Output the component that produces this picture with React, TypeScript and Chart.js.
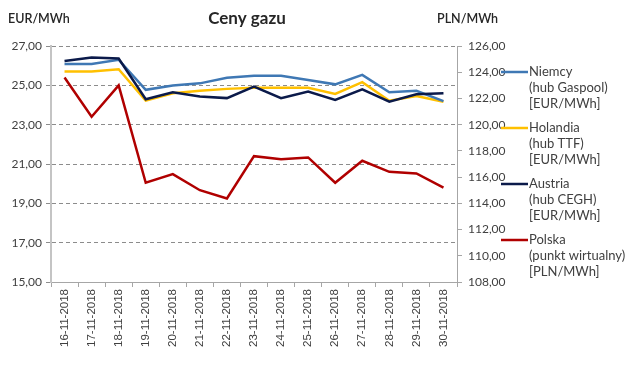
import React, { useEffect, useRef } from 'react';
import { Chart, registerables } from 'chart.js';

Chart.register(...registerables);

const dates = ['16-11-2018', '17-11-2018', '18-11-2018', '19-11-2018', '20-11-2018', '21-11-2018', '22-11-2018', '23-11-2018', '24-11-2018', '25-11-2018', '26-11-2018', '27-11-2018', '28-11-2018', '29-11-2018', '30-11-2018'];
const niemcy = [26.09, 26.09, 26.30, 24.77, 24.99, 25.10, 25.39, 25.49, 25.49, 25.27, 25.05, 25.53, 24.65, 24.72, 24.20];
const holandia = [25.70, 25.70, 25.82, 24.22, 24.60, 24.73, 24.82, 24.88, 24.88, 24.88, 24.56, 25.16, 24.22, 24.46, 24.17];
const austria = [26.24, 26.41, 26.36, 24.29, 24.65, 24.43, 24.35, 24.93, 24.35, 24.68, 24.26, 24.80, 24.17, 24.55, 24.60];
const polska = [123.6, 120.6, 123.0, 115.57, 116.23, 115.0, 114.37, 117.6, 117.37, 117.5, 115.57, 117.25, 116.4, 116.28, 115.2];

const leftTicks = [15, 27, 2];
const rightTicks = [108, 126, 2];

const seriesNames = [
  ['Niemcy', '(hub Gaspool)', '[EUR/MWh]'],
  ['Holandia', '(hub TTF)', '[EUR/MWh]'],
  ['Austria', '(hub CEGH)', '[EUR/MWh]'],
  ['Polska', '(punkt wirtualny)', '[PLN/MWh]'],
];
const colors = ['#3f78b4', '#ffc000', '#0b1a4a', '#b00000'];

const fmt = (v: number) => v.toFixed(2).replace('.', ',');

const textPlugin = {
  id: 'customText',
  afterDraw(chart: any) {
    const ctx = chart.ctx;
    ctx.save();
    ctx.textBaseline = 'middle';
    ctx.fillStyle = '#262626';
    ctx.font = 'bold 17px Lato';
    ctx.textAlign = 'center';
    ctx.fillText('Ceny gazu', 247, 19);
    ctx.font = '600 12.5px Lato';
    ctx.textAlign = 'left';
    ctx.fillText('EUR/MWh', 8, 19);
    ctx.fillText('PLN/MWh', 437, 19);
    // legend
    ctx.font = '13px Lato';
    ctx.fillStyle = '#404040';
    seriesNames.forEach((lines, i) => {
      const y0 = 72 + i * 56;
      ctx.strokeStyle = colors[i];
      ctx.lineWidth = 2.5;
      ctx.beginPath();
      ctx.moveTo(501, y0);
      ctx.lineTo(528, y0);
      ctx.stroke();
      lines.forEach((t, j) => {
        ctx.fillText(t, 529, y0 + j * 16);
      });
    });
    ctx.restore();
  },
};

export default function App() {
  const ref = useRef<HTMLCanvasElement>(null);
  useEffect(() => {
    document.body.style.margin = '0';
    const names = seriesNames.map((s) => s.join(' '));
    const chart = new Chart(ref.current!, {
      type: 'line',
      data: {
        labels: dates,
        datasets: [
          { label: names[3], data: polska, borderColor: colors[3], yAxisID: 'y1' },
          { label: names[2], data: austria, borderColor: colors[2], yAxisID: 'y' },
          { label: names[0], data: niemcy, borderColor: colors[0], yAxisID: 'y' },
          { label: names[1], data: holandia, borderColor: colors[1], yAxisID: 'y' },
        ].map((d) => ({ ...d, borderWidth: 2.5, pointRadius: 0, tension: 0, fill: false, backgroundColor: d.borderColor })),
      },
      options: {
        animation: false,
        responsive: true,
        maintainAspectRatio: false,
        layout: { padding: { top: 46, right: 113, left: 0, bottom: 0 } },
        plugins: { legend: { display: false }, tooltip: { enabled: false }, title: { display: false } },
        scales: {
          x: {
            offset: true,
            grid: { display: true, drawOnChartArea: false, offset: true, tickLength: 5, color: '#a6a6a6' },
            border: { display: true, color: '#a6a6a6', width: 1 },
            ticks: { minRotation: 90, maxRotation: 90, autoSkip: false, color: '#404040', font: { family: 'Liberation Sans', size: 11.5 }, padding: 2 },
            afterFit: (s: any) => { s.height = 85; },
          },
          y: {
            position: 'left',
            min: leftTicks[0],
            max: leftTicks[1],
            ticks: { stepSize: leftTicks[2], color: '#404040', font: { family: 'Lato', size: 12 }, padding: 4, callback: (v: any) => fmt(Number(v)) },
            grid: { color: '#8c8c8c', lineWidth: 1, tickLength: 5, drawTicks: true },
            border: { display: true, color: '#c4c4c4', width: 2, dash: [4, 3] },
            afterFit: (s: any) => { s.width = 51; },
          },
          y1: {
            position: 'right',
            min: rightTicks[0],
            max: rightTicks[1],
            ticks: { stepSize: rightTicks[2], color: '#404040', font: { family: 'Lato', size: 12 }, padding: 6, callback: (v: any) => fmt(Number(v)) },
            grid: { drawOnChartArea: false, color: '#a6a6a6', tickLength: 5 },
            border: { display: true, color: '#a6a6a6', width: 1 },
            afterFit: (s: any) => { s.width = 60; },
          },
        },
      },
      plugins: [textPlugin],
    } as any);
    return () => chart.destroy();
  }, []);
  return (
    <div style={{ width: 630, height: 367, position: 'relative' }}>
      <canvas ref={ref} />
    </div>
  );
}
